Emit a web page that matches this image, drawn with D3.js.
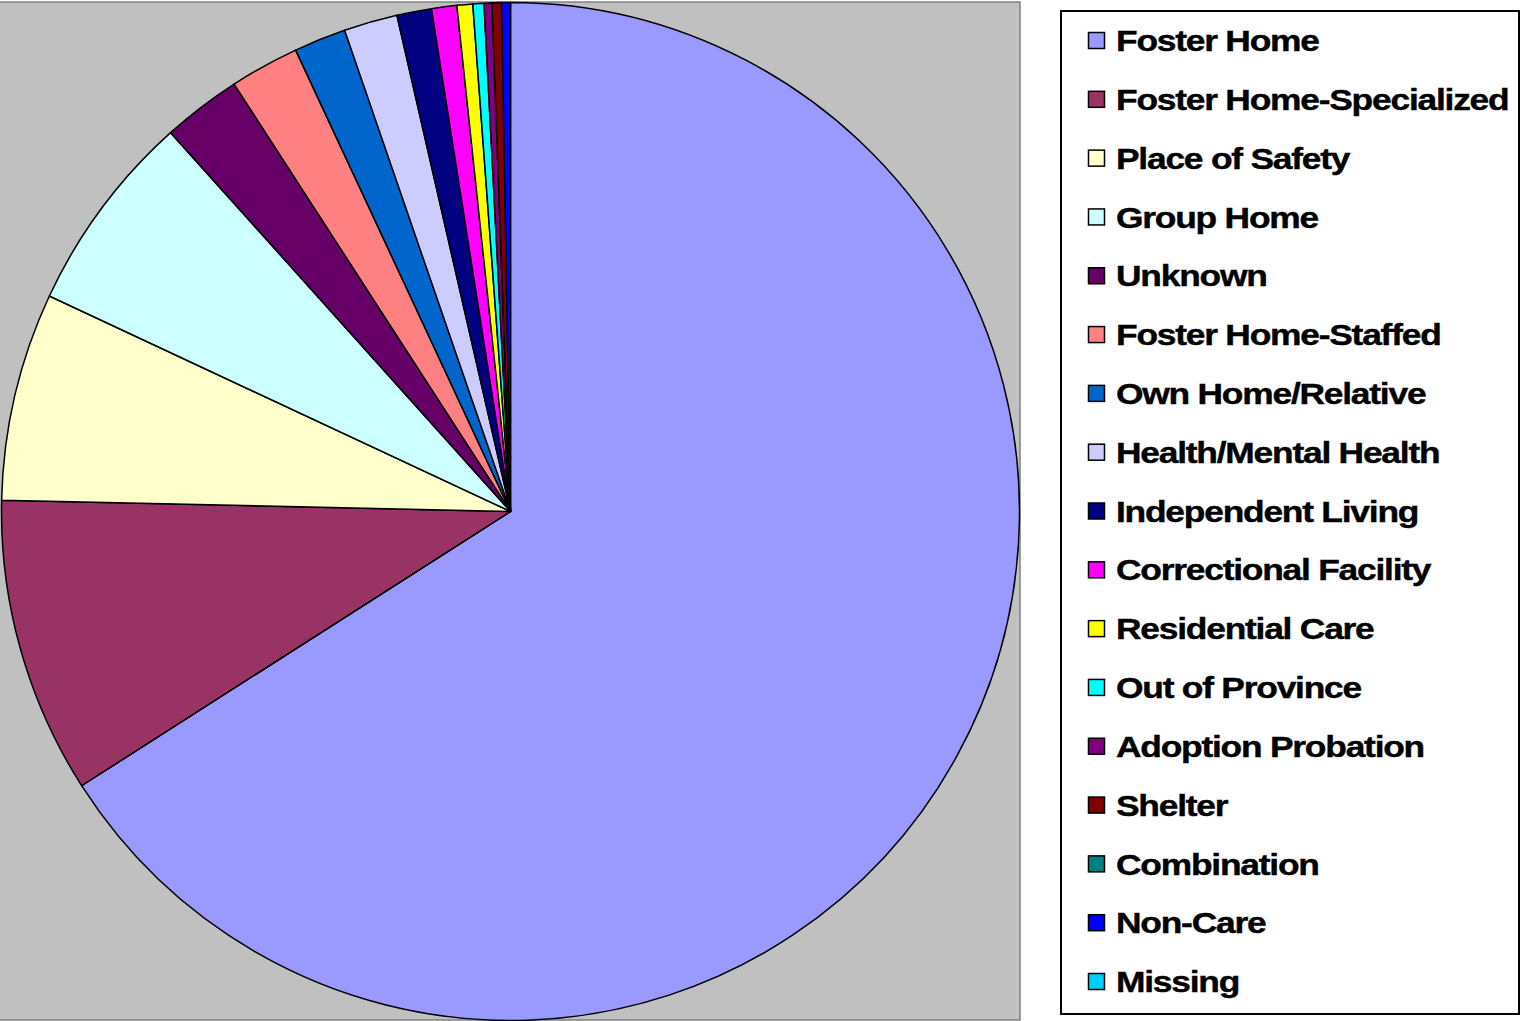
<!DOCTYPE html>
<html>
<head>
<meta charset="utf-8">
<script src="https://cdn.jsdelivr.net/npm/d3@7"></script>
<style>
html,body{margin:0;padding:0;background:#fff;}
svg{display:block;}
</style>
</head>
<body>
<svg id="chart" width="1521" height="1021"></svg>
<script>
const categories = ["Foster Home","Foster Home-Specialized","Place of Safety","Group Home","Unknown","Foster Home-Staffed","Own Home/Relative","Health/Mental Health","Independent Living","Correctional Facility","Residential Care","Out of Province","Adoption Probation","Shelter","Combination","Non-Care","Missing"];
const values = [65.9,9.4,6.6,6.4,2.5,2.2,1.65,1.7,1.1,0.8,0.5,0.35,0.25,0.3,0,0.28,0];
const colors = ["#9999FF","#993366","#FFFFCC","#CCFFFF","#660066","#FF8080","#0066CC","#CCCCFF","#000080","#FF00FF","#FFFF00","#00FFFF","#800080","#800000","#008080","#0000FF","#00CCFF"];

const svg = d3.select("#chart");

// plot area
svg.append("rect").attr("x",-1).attr("y",2).attr("width",1021).attr("height",1018)
  .attr("fill","#C0C0C0").attr("stroke","#808080").attr("stroke-width",1.5);

const data = categories.map((c,i)=>({name:c,value:values[i],color:colors[i]}));
const pie = d3.pie().value(d=>d.value).sort(null);
const arc = d3.arc().innerRadius(0).outerRadius(509);
const g = svg.append("g").attr("transform","translate(510.5,511.5)");
g.selectAll("path").data(pie(data).filter(d=>d.data.value>0)).join("path")
  .attr("d",arc).attr("fill",d=>d.data.color)
  .attr("stroke","#000").attr("stroke-width",1.5).attr("stroke-linejoin","round");

// legend
svg.append("rect").attr("x",1061).attr("y",11).attr("width",458).attr("height",1003)
  .attr("fill","#fff").attr("stroke","#000").attr("stroke-width",2);
const y = d3.scalePoint().domain(categories).range([41,982]);
const lg = svg.append("g").selectAll("g").data(data).join("g")
  .attr("transform",d=>`translate(0,${y(d.name)})`);
lg.append("rect").attr("x",1088.5).attr("y",-8.5).attr("width",16).attr("height",16)
  .attr("fill",d=>d.color).attr("stroke","#000").attr("stroke-width",1.5);
lg.append("text").attr("x",0).attr("y",0).attr("dy","0.35em")
  .attr("transform","translate(1116,0) scale(1.22,1)")
  .attr("font-family","Liberation Sans, Arial, sans-serif").attr("font-weight","bold")
  .attr("font-size",29).attr("letter-spacing",-1).attr("fill","#000")
  .attr("stroke","#000").attr("stroke-width",0.4)
  .text(d=>d.name);
</script>
</body>
</html>
